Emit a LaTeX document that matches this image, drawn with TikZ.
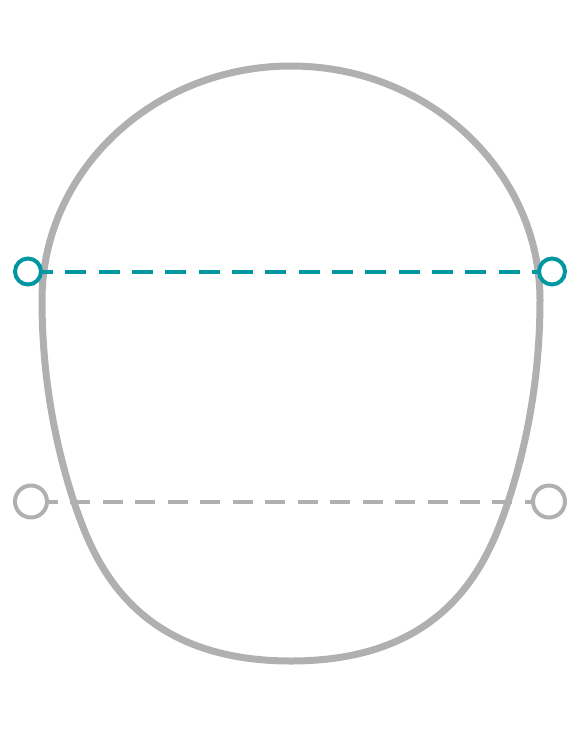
\documentclass[tikz,border=0pt]{standalone}
\definecolor{headgray}{RGB}{176,176,176}
\definecolor{markteal}{RGB}{0,151,161}
\pgfdeclarelayer{lzero}
\pgfdeclarelayer{lone}
\pgfdeclarelayer{ltwo}
\pgfsetlayers{lzero,lone,ltwo,main}
\begin{document}
\begin{tikzpicture}[x=1pt,y=-1pt,
  headline/.style={draw=headgray,line width=7pt},
  tealdot/.style={circle,draw=markteal,fill=white,line width=4pt,inner sep=0pt,minimum size=26pt},
  graydot/.style={circle,draw=headgray,fill=white,line width=4pt,inner sep=0pt,minimum size=32pt},
  tealdash/.style={draw=markteal,line width=4pt,dash pattern=on 21pt off 12.33pt,dash phase=29.33pt},
  graydash/.style={draw=headgray,line width=4pt,dash pattern=on 20pt off 12.46pt,dash phase=25.46pt}]
\useasboundingbox (0,0) rectangle (584,732);
\node[tealdot] (tl) at (28,271.5) {};
\node[tealdot] (tr) at (552,271.5) {};
\node[graydot] (gl) at (31,501.5) {};
\node[graydot] (gr) at (549,501.5) {};
\begin{pgfonlayer}{lzero}
\draw[graydash] (gl.center) -- (gr.center);
\end{pgfonlayer}
\begin{pgfonlayer}{lone}
\draw[headline] (291,66) .. controls (428.5,66) and (540,170.8) .. (540,300)
  .. controls (540,367) and (530,435) .. (508,502)
  .. controls (488,562) and (448,661) .. (291,661)
  .. controls (134,661) and (94,562) .. (74,502)
  .. controls (52,435) and (42,367) .. (42,300)
  .. controls (42,170.8) and (153.5,66) .. (291,66) -- cycle;
\end{pgfonlayer}
\begin{pgfonlayer}{ltwo}
\draw[tealdash] (tl.center) -- (tr.center);
\end{pgfonlayer}
\end{tikzpicture}
\end{document}
